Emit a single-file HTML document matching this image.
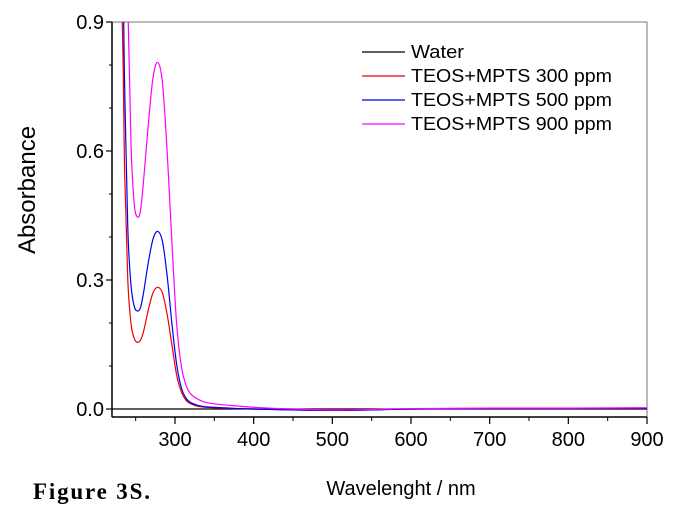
<!DOCTYPE html>
<html><head><meta charset="utf-8"><style>
body{margin:0;background:#fff;}
svg{display:block;font-family:"Liberation Sans",sans-serif;}
</style></head><body>
<svg id="chart" width="688" height="516" viewBox="0 0 688 516">
<g id="axes"></g>
<g id="series"></g>
<g id="legend"></g>
<text x="35" y="190" font-size="24" text-anchor="middle" transform="rotate(-90 35 190)">Absorbance</text>
<text x="401" y="495" font-size="20" text-anchor="middle">Wavelenght / nm</text>
<text x="33" y="499" font-size="23" font-weight="bold" textLength="117" lengthAdjust="spacing" font-family="Liberation Serif,serif">Figure 3S.</text>
</svg>
<script>
const xTicks=[300,400,500,600,700,800,900];
const yTicks=[0.0,0.3,0.6,0.9];
const yTickLabels=["0.0","0.3","0.6","0.9"];
const seriesNames=["Water","TEOS+MPTS 300 ppm","TEOS+MPTS 500 ppm","TEOS+MPTS 900 ppm"];
const seriesColors=["#000","#e00","#00e","#f0f"];
const wl=[220,232,236,240,244,248,252,256,260,266,272,278,284,290,296,302,308,314,320,330,340,360,380,400,450,500,550,600,700,800,900];
const water=[0,0,0,0,0,0,0,0,0,0,0,0,0,0,0,0,0,0,0,0,0,0,0,0,0,0,0,0,0,0,0];
const teos300=[1.2,0.95,0.55,0.3,0.2,0.165,0.155,0.16,0.18,0.23,0.27,0.283,0.27,0.22,0.15,0.08,0.04,0.02,0.012,0.006,0.004,0.002,0.001,0.0,-0.002,-0.003,-0.002,0.0,0.001,0.001,0.002];
const teos500=[1.2,1.1,0.75,0.42,0.29,0.24,0.228,0.235,0.27,0.34,0.395,0.413,0.39,0.31,0.2,0.105,0.05,0.025,0.015,0.008,0.005,0.003,0.001,0.0,-0.002,-0.003,-0.002,0.0,0.001,0.001,0.002];
const teos900=[1.3,1.25,1.1,0.95,0.62,0.48,0.447,0.46,0.53,0.66,0.77,0.806,0.76,0.6,0.39,0.2,0.1,0.055,0.035,0.022,0.015,0.01,0.007,0.004,0.0,-0.002,-0.001,0.001,0.002,0.002,0.003];
const seriesData=[water,teos300,teos500,teos900];
const L=112,R=647,T=22,B=417;
const X=v=>175+(v-300)*(472/600);
const Y=v=>409-v*(387/0.9);
const NS="http://www.w3.org/2000/svg";
function mk(tag,attrs,parent){const e=document.createElementNS(NS,tag);for(const k in attrs)e.setAttribute(k,attrs[k]);parent.appendChild(e);return e;}
const ax=document.getElementById('axes');
let f=mk('rect',{x:L,y:T,width:R-L,height:B-T,fill:'none',stroke:'#777','stroke-width':1},ax);


let la=mk('line',{x1:L,y1:T,x2:L,y2:B,stroke:'#000','stroke-width':1.5},ax);


let ba=mk('line',{x1:L,y1:B,x2:R,y2:B,stroke:'#000','stroke-width':1.5},ax);


xTicks.forEach(t=>{
 let l=mk('line',{x1:X(t),y1:B,x2:X(t),y2:B+7,stroke:'#000','stroke-width':1.2},ax);
 
 
 let m=mk('line',{x1:X(t-50),y1:B,x2:X(t-50),y2:B+4,stroke:'#000','stroke-width':1},ax);
 
 
 let tx=mk('text',{x:X(t),y:B+29,'font-size':20,'text-anchor':'middle'},ax);tx.textContent=t;
 
 
});
yTicks.forEach((t,i)=>{
 let l=mk('line',{x1:L-6,y1:Y(t),x2:L,y2:Y(t),stroke:'#000','stroke-width':1.2},ax);
 
 
 if(i<yTicks.length-1){[0.1,0.2].forEach(d=>{let m=mk('line',{x1:L-3,y1:Y(t+d),x2:L,y2:Y(t+d),stroke:'#000','stroke-width':1},ax);
 
 });}
 let tx=mk('text',{x:L-8,y:Y(t)+7,'font-size':20,'text-anchor':'end'},ax);tx.textContent=yTickLabels[i];
 
 
});
mk('clipPath',{id:'clip'},ax);
mk('rect',{x:L,y:T,width:R-L,height:B-T},document.getElementById('clip'));
const sg=document.getElementById('series');sg.setAttribute('clip-path','url(#clip)');
seriesData.forEach((d,i)=>{
 const pts=wl.map((w,j)=>[X(w),Y(d[j])]);
 let p='M'+pts[0][0]+','+pts[0][1];
 for(let j=1;j<pts.length;j++){const p0=pts[Math.max(j-2,0)],p1=pts[j-1],p2=pts[j],p3=pts[Math.min(j+1,pts.length-1)];
  p+=` C${p1[0]+(p2[0]-p0[0])/6},${p1[1]+(p2[1]-p0[1])/6} ${p2[0]-(p3[0]-p1[0])/6},${p2[1]-(p3[1]-p1[1])/6} ${p2[0]},${p2[1]}`;}
 let path=mk('path',{d:p,fill:'none',stroke:seriesColors[i],'stroke-width':1.2},sg);
 
 
});
const lg=document.getElementById('legend');
const ly=[52,76,100,124];
const lw=[53,201,201,201];
seriesNames.forEach((n,i)=>{
 let l=mk('line',{x1:362,y1:ly[i],x2:405,y2:ly[i],stroke:seriesColors[i],'stroke-width':1.2},lg);
 
 
 let t=mk('text',{x:411,y:ly[i]+6,'font-size':18.5,textLength:lw[i],lengthAdjust:'spacingAndGlyphs'},lg);t.textContent=n;
 
 
});
</script>
</body></html>
